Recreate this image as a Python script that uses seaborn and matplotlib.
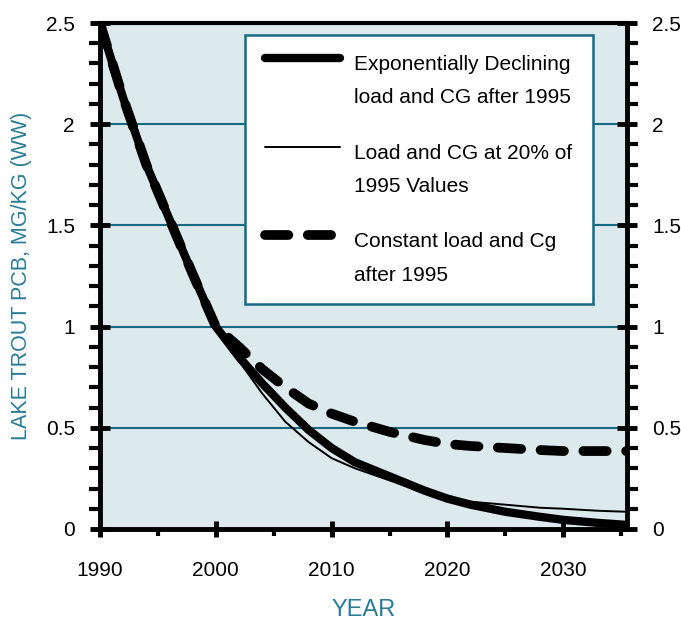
import numpy as np
import pandas as pd
import matplotlib.pyplot as plt
import seaborn as sns
from matplotlib.ticker import MultipleLocator
from matplotlib.legend_handler import HandlerLine2D

# values
years = [1990, 1992, 1994, 1996, 1998, 2000, 2002, 2004, 2006, 2008, 2010,
         2012, 2015, 2018, 2020, 2022, 2025, 2028, 2030, 2033, 2035.5]
exp_decline = [2.5, 2.13, 1.80, 1.53, 1.26, 1.00, 0.85, 0.72, 0.60, 0.49, 0.40,
               0.33, 0.26, 0.19, 0.15, 0.12, 0.085, 0.06, 0.045, 0.03, 0.02]
load_20pct = [2.5, 2.13, 1.80, 1.53, 1.26, 1.00, 0.83, 0.67, 0.53, 0.43, 0.35,
              0.30, 0.24, 0.18, 0.155, 0.135, 0.12, 0.105, 0.10, 0.09, 0.085]
constant_load = [2.5, 2.13, 1.80, 1.53, 1.26, 1.00, 0.90, 0.79, 0.70, 0.62, 0.57,
                 0.53, 0.48, 0.44, 0.42, 0.41, 0.40, 0.39, 0.385, 0.385, 0.385]

labels = ["Exponentially Declining\nload and CG after 1995",
          "Load and CG at 20% of\n1995 Values",
          "Constant load and Cg\nafter 1995"]

teal = "#176a84"
label_teal = "#2a7c96"
bg = "#dce9ed"

sns.set_style("ticks")
plt.rcParams["font.family"] = ["Liberation Sans", "DejaVu Sans"]
plt.rcParams["text.color"] = "black"
plt.rcParams["axes.edgecolor"] = "black"
plt.rcParams["xtick.color"] = "black"
plt.rcParams["ytick.color"] = "black"


class FirstLineHandler(HandlerLine2D):
    # put the legend line next to the first line of a two-line label
    def __init__(self, shift, **kw):
        super().__init__(**kw)
        self.shift = shift

    def create_artists(self, legend, orig_handle, xdescent, ydescent,
                       width, height, fontsize, trans):
        arts = super().create_artists(legend, orig_handle, xdescent, ydescent,
                                      width, height, fontsize, trans)
        for a in arts:
            a.set_ydata(np.asarray(a.get_ydata()) + self.shift)
        return arts


fig = plt.figure(figsize=(6.81, 6.2), dpi=100)
ax = fig.add_axes([0.1468, 0.1468, 0.7739, 0.8161])
ax.set_facecolor(bg)

sns.lineplot(x=years, y=exp_decline, ax=ax, color="black", linewidth=6,
             solid_capstyle="round", label=labels[0], zorder=3)
sns.lineplot(x=years, y=load_20pct, ax=ax, color="black", linewidth=1.4,
             label=labels[1], zorder=3)
sns.lineplot(x=years, y=constant_load, ax=ax, color="black", linewidth=7,
             linestyle=(0, (2.4, 2.0)), dash_capstyle="round",
             label=labels[2], zorder=3)

ax.set_xlim(1990, 2035.5)
ax.set_ylim(0, 2.5)
ax.xaxis.set_major_locator(MultipleLocator(10))
ax.xaxis.set_minor_locator(MultipleLocator(5))
ax.yaxis.set_minor_locator(MultipleLocator(0.1))
ax.set_yticks([0, 0.5, 1, 1.5, 2, 2.5])
ax.set_yticklabels(["0", "0.5", "1", "1.5", "2", "2.5"])

ax.grid(axis="y", which="major", color=teal, linewidth=1.5)
ax.set_axisbelow(True)

for side in ["left", "right", "bottom"]:
    ax.spines[side].set_linewidth(3.5)
ax.spines["top"].set_linewidth(3)

ax.tick_params(axis="y", which="major", direction="inout", length=14, width=3.5,
               left=True, right=True, labelleft=True, labelright=True,
               labelsize=15, pad=11)
ax.tick_params(axis="y", which="minor", direction="out", length=8, width=3,
               left=True, right=True)
ax.tick_params(axis="x", which="major", direction="inout", length=12, width=3.5,
               labelsize=15, pad=17)
ax.tick_params(axis="x", which="minor", direction="out", length=5, width=3)

ax.set_xlabel("YEAR", color=label_teal, fontsize=17, labelpad=14)
ax.set_ylabel("LAKE TROUT PCB, MG/KG (WW)", color=label_teal, fontsize=15.5,
              labelpad=10)

fs = 15
ls = 1.95
shift = 0.5 * ls * fs * 1.15
h, lab = ax.get_legend_handles_labels()
leg = ax.legend(h, lab, loc="upper left", bbox_to_anchor=(0.275, 0.44, 0.66, 0.536),
                mode="expand", frameon=True, fancybox=False, fontsize=fs,
                handlelength=3.6, handletextpad=0.7, borderpad=0.95,
                labelspacing=1.75, borderaxespad=0,
                handler_map={hh: FirstLineHandler(shift) for hh in h})
leg.get_frame().set_edgecolor(teal)
leg.get_frame().set_linewidth(1.8)
leg.get_frame().set_facecolor("white")
leg.get_frame().set_alpha(1)
leg.set_zorder(5)
for t in leg.get_texts():
    t.set_linespacing(ls)

fig.savefig("out.png", dpi=100)
